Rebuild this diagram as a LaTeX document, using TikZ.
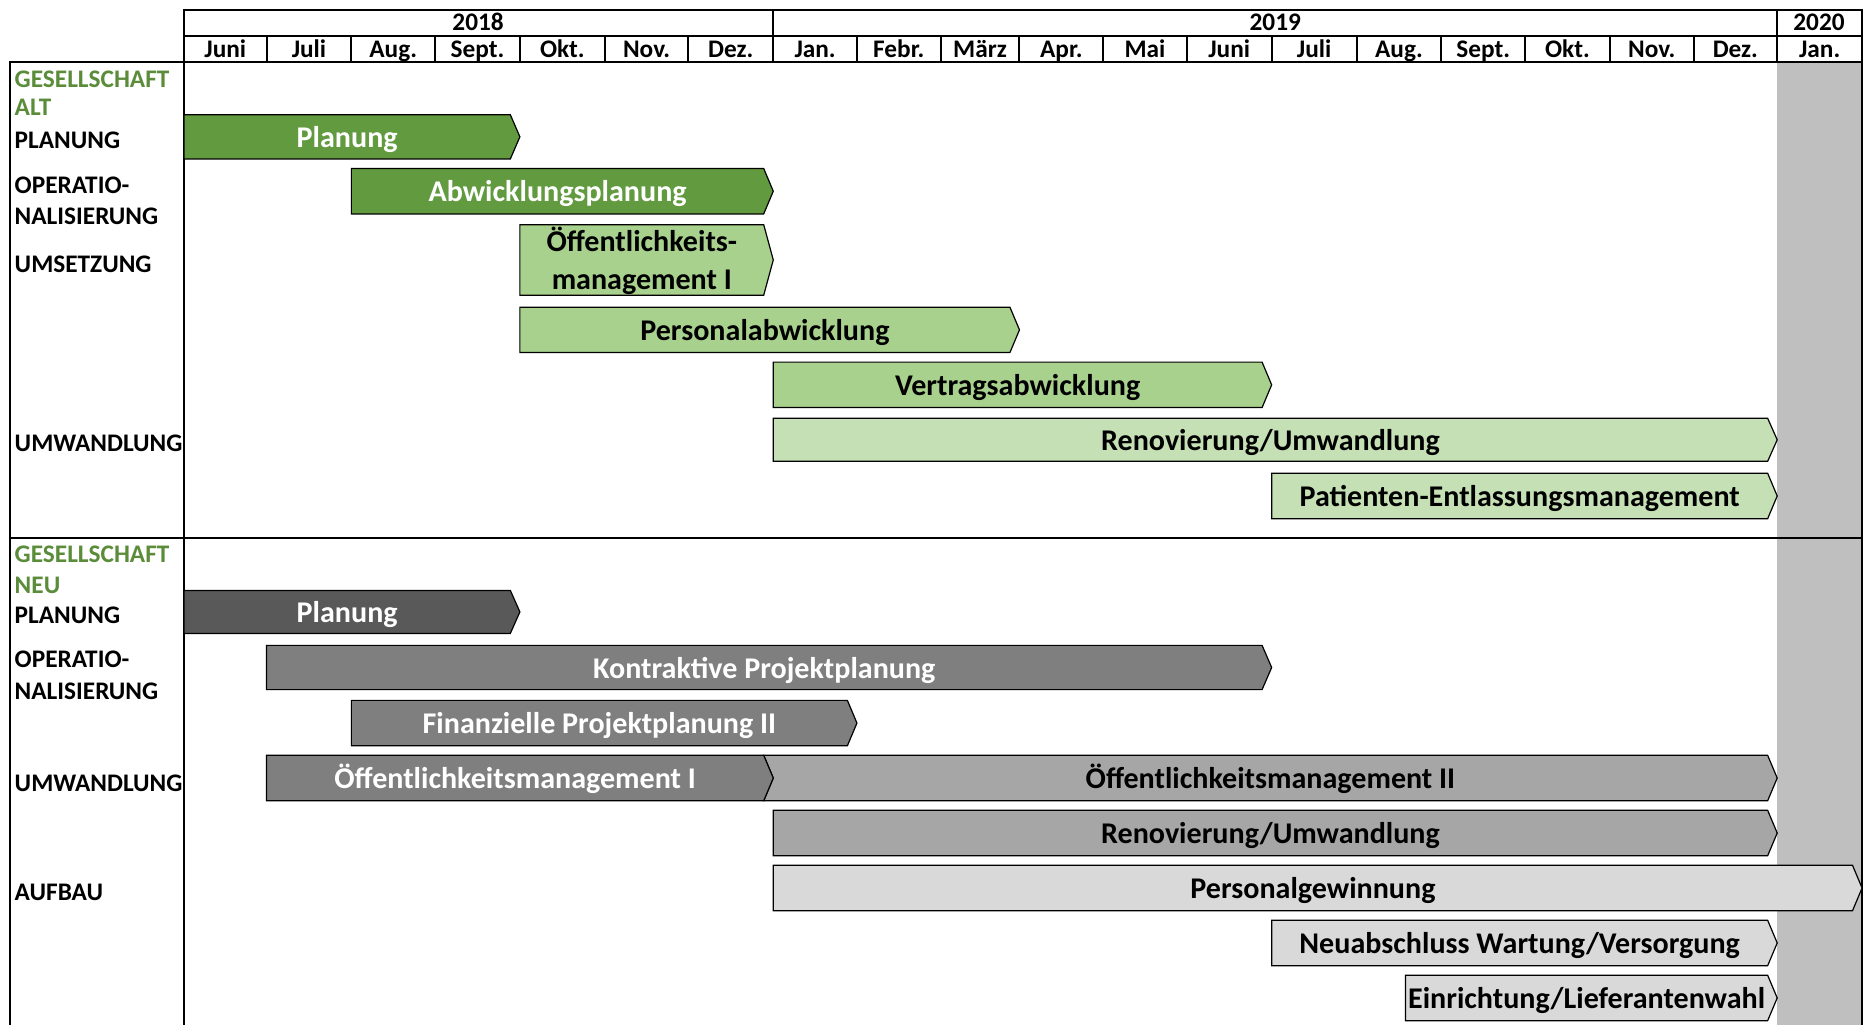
\documentclass[tikz,border=0pt]{standalone}
\usepackage{fontspec}
\setmainfont{Carlito}
\definecolor{gdark}{HTML}{629B3F}
\definecolor{gmid}{HTML}{A9D18E}
\definecolor{glight}{HTML}{C5E0B4}
\definecolor{kA}{HTML}{595959}
\definecolor{kB}{HTML}{7F7F7F}
\definecolor{kC}{HTML}{A6A6A6}
\definecolor{kD}{HTML}{D9D9D9}
\definecolor{colgray}{HTML}{BFBFBF}
\definecolor{lblgreen}{HTML}{5A8C3A}
\newcommand\gbar[8]{% name, x1, xtip, y1, y2, fill, textcolour, text
  \path[barshape,fill=#6] (#2,#4) -- ({#3-8},#4) -- (#3,{(#4+#5)/2}) -- ({#3-8},#5) -- (#2,#5) -- cycle;
  \node[bartxt,text=#7] (#1) at ({(#2+#3-8)/2},{(#4+#5)/2+0.8}) {#8};}
\begin{document}
\begin{tikzpicture}[x=0.6pt,y=-0.6pt,
  barshape/.style={draw=black,line width=0.6pt,line join=miter},
  bartxt/.style={font=\fontsize{15.1}{18.6}\selectfont\bfseries,inner sep=0pt,text height=9.7pt,text depth=0pt},
  lbl/.style={font=\fontsize{12.7}{14}\selectfont\bfseries,anchor=west,inner sep=0pt},
  hdr/.style={font=\fontsize{12.7}{14}\selectfont\bfseries,inner sep=0pt,text height=8.2pt,text depth=0pt},
  grid/.style={line width=1pt,draw=black}]
\useasboundingbox (0,0) rectangle (1568,858);
% gray January 2020 column
\fill[colgray] (1487,52) rectangle (1558,858);
% header
\draw[grid] (154,8) rectangle (1558,52);
\draw[grid] (154,30) -- (1558,30);
\draw[grid] (647,8) -- (647,30);
\draw[grid] (1487,8) -- (1487,30);
\foreach \xa in {223,294,364,435,506,576,647,717,787,853,923,993,1064,1135,1206,1276,1347,1417,1487}
  \draw[grid] (\xa,30) -- (\xa,52);
\node[hdr] (y18) at (400,19) {2018};
\node[hdr] (y19) at (1067,19) {2019};
\node[hdr] (y20) at (1522,19) {2020};
\foreach \m/\xa/\xb [count=\i] in {Juni/154/223,Juli/223/294,Aug./294/364,Sept./364/435,Okt./435/506,Nov./506/576,Dez./576/647,Jan./647/717,Febr./717/787,März/787/853,Apr./853/923,Mai/923/993,Juni/993/1064,Juli/1064/1135,Aug./1135/1206,Sept./1206/1276,Okt./1276/1347,Nov./1347/1417,Dez./1417/1487,Jan./1487/1558}
  \node[hdr] (m\i) at ({(\xa+\xb)/2},41) {\m};
% body frame
\draw[grid] (8,858) -- (8,52) -- (1558,52) -- (1558,858);
\draw[grid] (154,52) -- (154,858);
\draw[grid] (8,450) -- (1558,450);
% left labels, section 1
\node[lbl,text=lblgreen] (g1) at (12,66) {GESELLSCHAFT};
\node[lbl,text=lblgreen] (g1b) at (12,90) {ALT};
\node[lbl] (l1) at (12,117) {PLANUNG};
\node[lbl] (l2) at (12,155) {OPERATIO-};
\node[lbl] (l2b) at (12,181) {NALISIERUNG};
\node[lbl] (l3) at (12,221) {UMSETZUNG};
\node[lbl] (l4) at (12,371) {UMWANDLUNG};
% left labels, section 2
\node[lbl,text=lblgreen] (g2) at (12,464) {GESELLSCHAFT};
\node[lbl,text=lblgreen] (g2b) at (12,490) {NEU};
\node[lbl] (n1) at (12,515) {PLANUNG};
\node[lbl] (n2) at (12,552) {OPERATIO-};
\node[lbl] (n2b) at (12,578) {NALISIERUNG};
\node[lbl] (n3) at (12,655) {UMWANDLUNG};
\node[lbl] (n4) at (12,747) {AUFBAU};
% bars, section 1
\gbar{pA}{154}{435}{96}{133}{gdark}{white}{Planung}
\gbar{aA}{294}{647}{141}{179}{gdark}{white}{Abwicklungsplanung}
\path[barshape,fill=gmid] (435,188) -- (639,188) -- (647,217.5) -- (639,247) -- (435,247) -- cycle;
\node[font=\fontsize{15.1}{19}\selectfont\bfseries,inner sep=0pt,align=center,anchor=base] (oA) at (537,242) {Öffentlichkeits-\\management I};
\gbar{pwA}{435}{853}{257}{295}{gmid}{black}{Personalabwicklung}
\gbar{vA}{647}{1064}{303}{341}{gmid}{black}{Vertragsabwicklung}
\gbar{rA}{647}{1487}{350}{386}{glight}{black}{Renovierung/Umwandlung}
\gbar{peA}{1064}{1487}{396}{434}{glight}{black}{Patienten-Entlassungsmanagement}
% bars, section 2
\gbar{pN}{154}{435}{494}{530}{kA}{white}{Planung}
\gbar{kN}{223}{1064}{540}{577}{kB}{white}{Kontraktive Projektplanung}
\gbar{fN}{294}{717}{586}{624}{kB}{white}{Finanzielle Projektplanung II}
\path[barshape,fill=kC] (639,632) -- (1479,632) -- (1487,651) -- (1479,670) -- (639,670) -- (647,651) -- cycle;
\node[bartxt] (o2N) at (1063,651.8) {Öffentlichkeitsmanagement II};
\gbar{o1N}{223}{647}{632}{670}{kB}{white}{Öffentlichkeitsmanagement I}
\gbar{rN}{647}{1487}{678}{716}{kC}{black}{Renovierung/Umwandlung}
\gbar{pgN}{647}{1558}{724}{762}{kD}{black}{Personalgewinnung}
\gbar{nN}{1064}{1487}{770}{808}{kD}{black}{Neuabschluss Wartung/Versorgung}
\gbar{eN}{1176}{1487}{816}{854}{kD}{black}{Einrichtung/Lieferantenwahl}
\end{tikzpicture}
\end{document}
